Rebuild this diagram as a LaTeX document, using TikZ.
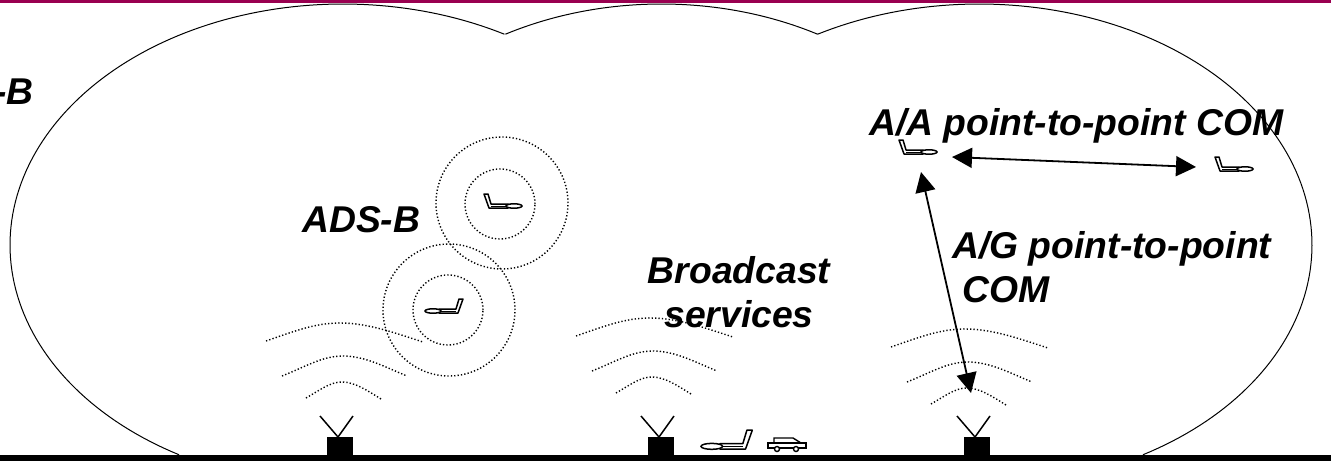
\documentclass[tikz,border=0pt]{standalone}
\usepackage{fontspec}
\setmainfont{Liberation Sans}
\usepackage{xcolor}
\usetikzlibrary{arrows.meta,positioning}
\definecolor{barcol}{HTML}{990050}

\begin{document}
\begin{tikzpicture}[
  x=1pt, y=-1pt,
  lobe/.style={draw, line width=1pt},
  dotline/.style={draw, line width=1.4pt, dash pattern=on 1.3pt off 2.1pt},
  arrow/.style={{Triangle[length=20pt,width=20pt]}-{Triangle[length=20pt,width=20pt]}, line width=1.8pt},
  lbl/.style={font=\fontsize{37.3}{44}\selectfont\bfseries\itshape, inner sep=0pt},
  pics/plane/.style={code={
    \draw[line width=1.5pt, fill=white, line join=round]
      (6,-1) -- (-11,-1) -- (-14,-11) -- (-18,-11) -- (-13,3) -- (6,3) -- cycle;
    \draw[line width=0.7pt] (-11,1) -- (5,1);
    \draw[line width=1.5pt, fill=white] (12,1) ellipse (8 and 2.2);
  }},
  pics/waves/.style={code={
    \draw[dotline] (-74,18) .. controls (-45,8) and (-25,0) .. (0,0) .. controls (28,0) and (55,10) .. (83,19);
    \draw[dotline] (-58,53) .. controls (-35,44) and (-18,33) .. (3,33) .. controls (25,33) and (45,44) .. (67,53);
    \draw[dotline] (-34,75) .. controls (-20,67) and (-10,59) .. (2,59) .. controls (15,59) and (28,68) .. (41,76);
  }},
  pics/antenna/.style={code={
    \fill (-13,-18) rectangle (13,0);
    \draw[line width=1.5pt] (-20,-39) -- (-2,-18) -- (13,-39);
  }}
]
  \useasboundingbox (0,0) rectangle (1331,461);
  \fill[barcol] (0,0) rectangle (1331,3);

  % coverage lobes
  \draw[lobe] plot[domain=119.5:299, samples=120] ({343+333*cos(\x)},{245+241*sin(\x)});
  \draw[lobe] plot[domain=241:299, samples=60] ({661.5+322*cos(\x)},{245+241*sin(\x)});
  \draw[lobe] plot[domain=241:420.5, samples=120] ({979+333*cos(\x)},{245+241*sin(\x)});

  % ground
  \fill (0,455) rectangle (1331,461);
  \pic at (340,455) {antenna};
  \pic at (661,455) {antenna};
  \pic at (977,455) {antenna};
  \foreach \wx/\wy in {340/323, 650/318, 965/329}
    \pic at (\wx,\wy) {waves};

  % ranges around the two aircraft
  \node[dotline, circle, minimum size=132pt, inner sep=0pt] (outerA) at (502,203) {};
  \node[dotline, circle, minimum size=70pt, inner sep=0pt] (innerA) at (500,204) {};
  \node[dotline, circle, minimum size=132pt, inner sep=0pt] (outerB) at (449,310) {};
  \node[dotline, circle, minimum size=70pt, inner sep=0pt] (innerB) at (448,310) {};

  \pic at (502,205) {plane};
  \pic[xscale=-1] at (445,310) {plane};
  \pic at (917,151) {plane};
  \pic at (1233,168) {plane};
  \pic[xscale=-1.35, yscale=1.35] at (728,445) {plane};

  % car
  \draw[line width=1.4pt, fill=white] (768,443) rectangle (806,448);
  \draw[line width=1.4pt] (774,443) -- (774,438) -- (793,438) -- (801,443);
  \draw[line width=1.4pt, fill=white] (777,449) circle (2.5);
  \draw[line width=1.4pt, fill=white] (796,449) circle (2.5);

  \coordinate (aaleft) at (952,157);
  \coordinate (aaright) at (1196,167);
  \coordinate (agtop) at (921,172);
  \coordinate (agbottom) at (971,393);
  \draw[arrow] (aaleft) -- (aaright);
  \draw[arrow] (agtop) -- (agbottom);

  \node[lbl, anchor=base east] (cutlabel) at (34,104) {-B};
  \node[lbl, anchor=base west] (adsb) at (302,232) {ADS-B};
  \node[lbl, anchor=base west] (aalabel) at (869,135) {A/A point-to-point COM};
  \node[lbl, anchor=base west] (aglabel) at (952,258) {A/G point-to-point};
  \node[lbl, anchor=base west] (comlabel) at (962,302) {COM};
  \node[lbl, anchor=base] (bclabel) at (739,283) {Broadcast};
  \node[lbl, anchor=base] (svlabel) at (739,327) {services};
\end{tikzpicture}
\end{document}
